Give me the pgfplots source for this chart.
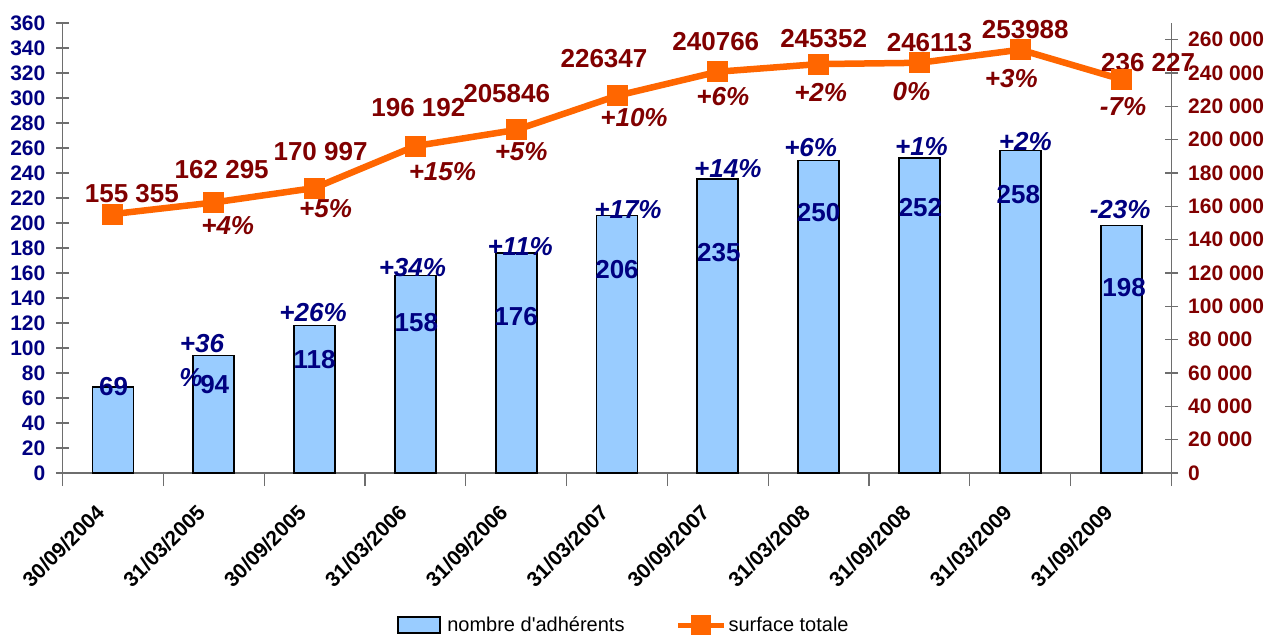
\documentclass[border=0pt]{standalone}
\usepackage{fontspec}
\setmainfont{Liberation Sans}[Ligatures=TeXOff]
\usepackage{pgfplots}
\pgfplotsset{compat=1.18}
\definecolor{barblue}{RGB}{153,204,255}
\definecolor{lineor}{RGB}{255,102,0}
\definecolor{dred}{RGB}{128,0,0}
\definecolor{navyc}{RGB}{0,0,128}
\definecolor{axgray}{RGB}{110,110,110}
\newcommand{\lab}{\fontsize{26}{30}\selectfont\bfseries}
\newcommand{\labi}{\fontsize{26}{30}\selectfont\bfseries\itshape}
\newcommand{\tkf}{\fontsize{21}{24}\selectfont\bfseries}
\begin{document}
\begin{tikzpicture}
\begin{axis}[
  scale only axis, width=1109pt, height=450pt,
  xmin=-0.5, xmax=10.5, ymin=0, ymax=360,
  clip=false,
  axis x line*=bottom, axis y line*=left,
  axis line style={axgray, line width=1.2pt, -},
  ytick={0,20,...,360},
  xtick={-0.5,0.5,...,10.5}, xticklabels={},
  tick align=center, major tick length=13pt,
  tick style={axgray, line width=1.2pt},
  /pgf/number format/assume math mode=true,
  yticklabel style={font=\tkf, text=navyc, inner sep=0pt, anchor=east, xshift=-10.5pt},
  xticklabel style={font=\tkf, text=black, inner sep=0pt, anchor=north east, xshift=-18pt, yshift=-30pt, rotate=45},
  extra x ticks={0,1,2,3,4,5,6,7,8,9,10},
  extra x tick labels={30/09/2004,31/03/2005,30/09/2005,31/03/2006,31/09/2006,31/03/2007,30/09/2007,31/03/2008,31/09/2008,31/03/2009,31/09/2009},
  extra x tick style={major tick length=0pt},
  ybar, bar width=41pt,
]
\addplot[fill=barblue, draw=black, line width=1.8pt] coordinates {(0,69) (1,94) (2,118) (3,158) (4,176) (5,206) (6,235) (7,250) (8,252) (9,258) (10,198)};
% bar value labels
\node[text=navyc, font=\lab, inner sep=0pt, xshift=0.6pt, yshift=0pt] at (axis cs:0,69) {69};
\node[text=navyc, font=\lab, inner sep=0pt, xshift=1pt, yshift=-29.5pt] at (axis cs:1,94) {94};
\node[text=navyc, font=\lab, inner sep=0pt, xshift=0pt, yshift=-34pt] at (axis cs:2,118) {118};
\node[text=navyc, font=\lab, inner sep=0pt, xshift=1pt, yshift=-47pt] at (axis cs:3,158) {158};
\node[text=navyc, font=\lab, inner sep=0pt, xshift=0pt, yshift=-64pt] at (axis cs:4,176) {176};
\node[text=navyc, font=\lab, inner sep=0pt, xshift=0pt, yshift=-54.5pt] at (axis cs:5,206) {206};
\node[text=navyc, font=\lab, inner sep=0pt, xshift=1pt, yshift=-73pt] at (axis cs:6,235) {235};
\node[text=navyc, font=\lab, inner sep=0pt, xshift=0pt, yshift=-52pt] at (axis cs:7,250) {250};
\node[text=navyc, font=\lab, inner sep=0pt, xshift=1pt, yshift=-49.5pt] at (axis cs:8,252) {252};
\node[text=navyc, font=\lab, inner sep=0pt, xshift=-2pt, yshift=-44.5pt] at (axis cs:9,258) {258};
\node[text=navyc, font=\lab, inner sep=0pt, xshift=3pt, yshift=-62pt] at (axis cs:10,198) {198};
% bar percent labels
\node[text=navyc, font=\labi, inner sep=0pt, xshift=-11.7pt, yshift=11.5pt] at (axis cs:1,94) {+36};
\node[text=navyc, font=\labi, inner sep=0pt, xshift=-22.7pt, yshift=-22pt] at (axis cs:1,94) {\%};
\node[text=navyc, font=\labi, inner sep=0pt, xshift=-1.5pt, yshift=12.5pt] at (axis cs:2,118) {+26\%};
\node[text=navyc, font=\labi, inner sep=0pt, xshift=-3pt, yshift=7.5pt] at (axis cs:3,158) {+34\%};
\node[text=navyc, font=\labi, inner sep=0pt, xshift=4pt, yshift=6.5pt] at (axis cs:4,176) {+11\%};
\node[text=navyc, font=\labi, inner sep=0pt, xshift=11pt, yshift=5.5pt] at (axis cs:5,206) {+17\%};
\node[text=navyc, font=\labi, inner sep=0pt, xshift=10pt, yshift=11pt] at (axis cs:6,235) {+14\%};
\node[text=navyc, font=\labi, inner sep=0pt, xshift=-8pt, yshift=12.5pt] at (axis cs:7,250) {+6\%};
\node[text=navyc, font=\labi, inner sep=0pt, xshift=2pt, yshift=11pt] at (axis cs:8,252) {+1\%};
\node[text=navyc, font=\labi, inner sep=0pt, xshift=5pt, yshift=8.5pt] at (axis cs:9,258) {+2\%};
\node[text=navyc, font=\labi, inner sep=0pt, xshift=-1pt, yshift=15.5pt] at (axis cs:10,198) {-23\%};
\end{axis}
\begin{axis}[
  scale only axis, width=1109pt, height=450pt,
  xmin=-0.5, xmax=10.5, ymin=0, ymax=270000,
  clip=false,
  axis x line=none, axis y line*=right,
  axis line style={axgray, line width=1.2pt, -},
  ytick={0,20000,40000,60000,80000,100000,120000,140000,160000,180000,200000,220000,240000,260000},
  yticklabels={0,20 000,40 000,60 000,80 000,100 000,120 000,140 000,160 000,180 000,200 000,220 000,240 000,260 000},
  scaled y ticks=false,
  tick align=center, major tick length=13pt,
  tick style={axgray, line width=1.2pt},
  yticklabel style={font=\tkf, text=dred, inner sep=0pt, anchor=west, xshift=10pt},
  legend style={at={(0.5063,-0.3378)}, anchor=center, draw=none, fill=none,
    font=\fontsize{20}{24}\selectfont, inner sep=0pt,
    /tikz/every even column/.append style={column sep=49pt}},
  legend columns=2,
  legend cell align=left,
]
\addlegendimage{legend image code/.code={\draw[fill=barblue,draw=black,line width=1.5pt] (0pt,-8pt) rectangle (42pt,8pt); \path (47pt,0pt);}}
\addlegendentry{nombre d'adhérents}
\addplot[lineor, line width=6.5pt, mark=square*, mark size=10pt,
  mark options={fill=lineor, draw=lineor, line width=0pt},
  legend image code/.code={\draw[lineor, line width=5pt] (0pt,0pt) -- (46pt,0pt); \fill[lineor] (16pt,-7pt) rectangle (30pt,7pt);}]
  coordinates {(0,155355) (1,162295) (2,170997) (3,196192) (4,205846) (5,226347) (6,240766) (7,245352) (8,246113) (9,253988) (10,236227)};
\addlegendentry{surface totale}
% line value labels
\node[text=dred, font=\lab, inner sep=0pt, xshift=19pt, yshift=21pt] at (axis cs:0,155355) {155 355};
\node[text=dred, font=\lab, inner sep=0pt, xshift=8pt, yshift=33pt] at (axis cs:1,162295) {162 295};
\node[text=dred, font=\lab, inner sep=0pt, xshift=6pt, yshift=36pt] at (axis cs:2,170997) {170 997};
\node[text=dred, font=\lab, inner sep=0pt, xshift=3pt, yshift=38pt] at (axis cs:3,196192) {196 192};
\node[text=dred, font=\lab, inner sep=0pt, xshift=-9.5pt, yshift=36pt] at (axis cs:4,205846) {205846};
\node[text=dred, font=\lab, inner sep=0pt, xshift=-13pt, yshift=37pt] at (axis cs:5,226347) {226347};
\node[text=dred, font=\lab, inner sep=0pt, xshift=-2pt, yshift=30pt] at (axis cs:6,240766) {240766};
\node[text=dred, font=\lab, inner sep=0pt, xshift=5pt, yshift=25.5pt] at (axis cs:7,245352) {245352};
\node[text=dred, font=\lab, inner sep=0pt, xshift=10pt, yshift=20.5pt] at (axis cs:8,246113) {246113};
\node[text=dred, font=\lab, inner sep=0pt, xshift=5pt, yshift=20pt] at (axis cs:9,253988) {253988};
\node[text=dred, font=\lab, inner sep=0pt, xshift=27pt, yshift=17pt] at (axis cs:10,236227) {236 227};
% line percent labels
\node[text=dred, font=\labi, inner sep=0pt, xshift=14pt, yshift=-23pt] at (axis cs:1,162295) {+4\%};
\node[text=dred, font=\labi, inner sep=0pt, xshift=11pt, yshift=-21pt] at (axis cs:2,170997) {+5\%};
\node[text=dred, font=\labi, inner sep=0pt, xshift=27pt, yshift=-26pt] at (axis cs:3,196192) {+15\%};
\node[text=dred, font=\labi, inner sep=0pt, xshift=5pt, yshift=-22pt] at (axis cs:4,205846) {+5\%};
\node[text=dred, font=\labi, inner sep=0pt, xshift=17pt, yshift=-22pt] at (axis cs:5,226347) {+10\%};
\node[text=dred, font=\labi, inner sep=0pt, xshift=5pt, yshift=-25pt] at (axis cs:6,240766) {+6\%};
\node[text=dred, font=\labi, inner sep=0pt, xshift=2pt, yshift=-28pt] at (axis cs:7,245352) {+2\%};
\node[text=dred, font=\labi, inner sep=0pt, xshift=-8pt, yshift=-29pt] at (axis cs:8,246113) {0\%};
\node[text=dred, font=\labi, inner sep=0pt, xshift=-9pt, yshift=-29pt] at (axis cs:9,253988) {+3\%};
\node[text=dred, font=\labi, inner sep=0pt, xshift=2pt, yshift=-27.5pt] at (axis cs:10,236227) {-7\%};
\end{axis}
\pgfresetboundingbox
\path[use as bounding box] (-62.5pt,-166pt) rectangle (1205.5pt,473pt);
\end{tikzpicture}
\end{document}
